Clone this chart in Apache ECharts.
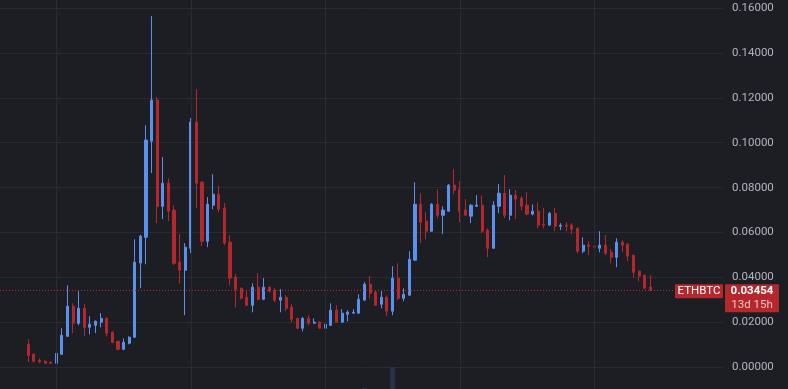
<!DOCTYPE html>
<html><head><meta charset="utf-8">
<script src="https://cdn.jsdelivr.net/npm/echarts@6/dist/echarts.min.js"></script>
<style>html,body{margin:0;padding:0;background:#1d1e23;overflow:hidden}#c{width:788px;height:389px}</style>
</head><body><div id="c"></div>
<script>
const months = ['2015-08','2015-09','2015-10','2015-11','2015-12',
'2016-01','2016-02','2016-03','2016-04','2016-05','2016-06','2016-07','2016-08','2016-09','2016-10','2016-11','2016-12',
'2017-01','2017-02','2017-03','2017-04','2017-05','2017-06','2017-07','2017-08','2017-09','2017-10','2017-11','2017-12',
'2018-01','2018-02','2018-03','2018-04','2018-05','2018-06','2018-07','2018-08','2018-09','2018-10','2018-11','2018-12',
'2019-01','2019-02','2019-03','2019-04','2019-05','2019-06','2019-07','2019-08','2019-09','2019-10','2019-11','2019-12',
'2020-01','2020-02','2020-03','2020-04','2020-05','2020-06','2020-07','2020-08','2020-09','2020-10','2020-11','2020-12',
'2021-01','2021-02','2021-03','2021-04','2021-05','2021-06','2021-07','2021-08','2021-09','2021-10','2021-11','2021-12',
'2022-01','2022-02','2022-03','2022-04','2022-05','2022-06','2022-07','2022-08','2022-09','2022-10','2022-11','2022-12',
'2023-01','2023-02','2023-03','2023-04','2023-05','2023-06','2023-07','2023-08','2023-09','2023-10','2023-11','2023-12',
'2024-01','2024-02','2024-03','2024-04','2024-05','2024-06','2024-07','2024-08','2024-09','2024-10','2024-11'];

const open = [0.0102,0.0058,0.0030,0.0027,0.0022,
0.0018,0.0058,0.0138,0.0272,0.0196,0.0263,0.0178,0.0187,0.0201,0.0218,0.0156,0.0116,
0.0080,0.0107,0.0134,0.0464,0.0579,0.1007,0.1190,0.0717,0.0820,0.0700,0.0468,0.0432,
0.0530,0.1092,0.0824,0.0561,0.0722,0.0771,0.0709,0.0557,0.0401,0.0352,0.0312,0.0276,
0.0357,0.0303,0.0357,0.0343,0.0299,0.0312,0.0267,0.0218,0.0174,0.0218,0.0196,0.0201,
0.0174,0.0187,0.0254,0.0201,0.0236,0.0241,0.0241,0.0299,0.0370,0.0334,0.0281,0.0312,
0.0250,0.0397,0.0307,0.0321,0.0477,0.0726,0.0651,0.0606,0.0726,0.0677,0.0695,0.0811,
0.0793,0.0700,0.0673,0.0717,0.0722,0.0611,0.0530,0.0717,0.0775,0.0677,0.0766,0.0753,
0.0722,0.0682,0.0695,0.0637,0.0633,0.0686,0.0628,0.0633,0.0633,0.0619,0.0517,0.0544,
0.0539,0.0530,0.0544,0.0512,0.0490,0.0557,0.0548,0.0499,0.0428,0.0410,0.0357];

const close = [0.0053,0.0027,0.0024,0.0018,0.0018,
0.0062,0.0143,0.0272,0.0196,0.0263,0.0178,0.0192,0.0205,0.0218,0.0152,0.0111,0.0080,
0.0111,0.0134,0.0468,0.0584,0.1012,0.1190,0.0717,0.0820,0.0695,0.0463,0.0432,0.0535,
0.1092,0.0820,0.0561,0.0726,0.0771,0.0704,0.0553,0.0397,0.0348,0.0307,0.0276,0.0357,
0.0303,0.0357,0.0339,0.0299,0.0312,0.0263,0.0214,0.0174,0.0218,0.0196,0.0201,0.0174,
0.0192,0.0254,0.0201,0.0241,0.0245,0.0245,0.0303,0.0370,0.0330,0.0276,0.0312,0.0250,
0.0397,0.0307,0.0325,0.0481,0.0726,0.0646,0.0606,0.0726,0.0677,0.0700,0.0811,0.0789,
0.0695,0.0677,0.0722,0.0722,0.0606,0.0530,0.0722,0.0775,0.0677,0.0766,0.0749,0.0717,
0.0682,0.0695,0.0633,0.0633,0.0686,0.0628,0.0633,0.0628,0.0615,0.0517,0.0544,0.0539,
0.0535,0.0544,0.0508,0.0490,0.0557,0.0544,0.0495,0.0423,0.0406,0.0352,0.03454];

const low = [0.0024,0.0022,0.0019,0.0017,0.0017,
0.0016,0.0056,0.0135,0.0152,0.0187,0.0138,0.0147,0.0152,0.0178,0.0138,0.0107,0.0076,
0.0076,0.0102,0.0130,0.0352,0.0459,0.0865,0.0642,0.0660,0.0651,0.0455,0.0374,0.0232,
0.0508,0.0709,0.0539,0.0535,0.0704,0.0691,0.0544,0.0365,0.0267,0.0303,0.0272,0.0245,
0.0299,0.0299,0.0334,0.0290,0.0245,0.0250,0.0201,0.0172,0.0160,0.0187,0.0196,0.0172,
0.0169,0.0185,0.0199,0.0199,0.0205,0.0239,0.0239,0.0297,0.0307,0.0274,0.0263,0.0227,
0.0232,0.0299,0.0294,0.0319,0.0475,0.0553,0.0570,0.0604,0.0664,0.0593,0.0693,0.0771,
0.0646,0.0675,0.0642,0.0715,0.0597,0.0490,0.0528,0.0686,0.0664,0.0655,0.0660,0.0700,
0.0677,0.0677,0.0619,0.0619,0.0631,0.0606,0.0611,0.0606,0.0593,0.0508,0.0508,0.0499,
0.0477,0.0512,0.0499,0.0463,0.0446,0.0512,0.0472,0.0401,0.0383,0.0350,0.0339];

const high = [0.0125,0.0062,0.0040,0.0031,0.0026,
0.0071,0.0174,0.0365,0.0285,0.0339,0.0281,0.0227,0.0209,0.0241,0.0223,0.0160,0.0116,
0.0129,0.0138,0.0570,0.0590,0.1078,0.1564,0.1203,0.0936,0.0842,0.0722,0.0593,0.0553,
0.1110,0.1239,0.0829,0.0758,0.0860,0.0807,0.0731,0.0588,0.0414,0.0355,0.0343,0.0374,
0.0419,0.0397,0.0361,0.0352,0.0348,0.0321,0.0281,0.0220,0.0223,0.0232,0.0218,0.0205,
0.0201,0.0285,0.0276,0.0259,0.0254,0.0259,0.0325,0.0379,0.0406,0.0343,0.0339,0.0321,
0.0450,0.0463,0.0352,0.0517,0.0824,0.0775,0.0691,0.0731,0.0793,0.0717,0.0816,0.0882,
0.0829,0.0749,0.0726,0.0766,0.0766,0.0619,0.0740,0.0816,0.0856,0.0793,0.0789,0.0762,
0.0780,0.0726,0.0735,0.0709,0.0691,0.0709,0.0642,0.0646,0.0642,0.0624,0.0579,0.0561,
0.0611,0.0606,0.0588,0.0526,0.0575,0.0566,0.0553,0.0501,0.0432,0.0414,0.0410];

const volumeMonths = ['2020-08','2021-01'];
const volumeValues = [2.3, 50];

const gridMonths = ['2016-01','2018-01','2020-01','2022-01','2024-01'];
const symbol = 'ETHBTC';
const lastPrice = 0.03454;
const lastPriceText = '0.03454';
const countdown = '13d 15h';

const UP = '#5b90ef', DOWN = '#b2282d', GRID = '#2a2b31', BG = '#1d1e23';
const base = months.indexOf('2016-01');
const xOf = m => months.indexOf(m) - base;
const X_MIN = -10.05, X_MAX = 118.97;

const candleData = months.map((m, i) => [i - base, open[i], close[i], low[i], high[i]]);
const volData = volumeMonths.map((m, i) => [xOf(m), volumeValues[i]]);

const chart = echarts.init(document.getElementById('c'), null, {renderer: 'canvas'});
chart.setOption({
  animation: false,
  backgroundColor: BG,
  textStyle: {fontFamily: 'Roboto'},
  grid: [
    {left: 0, right: 65, top: -36.9, bottom: -23.2, outerBoundsMode: 'none', containLabel: false},
    {left: 0, right: 65, top: 345, bottom: 0, outerBoundsMode: 'none', containLabel: false}
  ],
  xAxis: [
    {type: 'value', gridIndex: 0, min: X_MIN, max: X_MAX, show: false, splitLine: {show: false}},
    {type: 'value', gridIndex: 1, min: X_MIN, max: X_MAX, show: false, splitLine: {show: false}}
  ],
  yAxis: [
    {type: 'value', gridIndex: 0, position: 'right', min: -0.02, max: 0.18, interval: 0.02,
     axisLine: {show: false}, axisTick: {show: false},
     axisLabel: {color: '#b2b5be', fontSize: 11.5, fontFamily: 'Roboto', margin: 9,
       formatter: v => v.toFixed(5)},
     splitLine: {lineStyle: {color: GRID, width: 1}}},
    {type: 'value', gridIndex: 1, min: 0, max: 100, show: false, splitLine: {show: false}}
  ],
  series: [
    {type: 'line', xAxisIndex: 0, yAxisIndex: 0, data: [], z: 0, silent: true,
     markLine: {silent: true, symbol: 'none', label: {show: false}, animation: false,
       lineStyle: {color: GRID, type: 'solid', width: 1},
       data: gridMonths.map(m => ({xAxis: xOf(m)}))}},
    {type: 'bar', xAxisIndex: 1, yAxisIndex: 1, data: volData, barWidth: 5,
     itemStyle: {color: '#27324a'}, z: 1, silent: true},
    {type: 'candlestick', xAxisIndex: 0, yAxisIndex: 0, data: candleData,
     encode: {x: 0, y: [1, 2, 3, 4]}, barWidth: 2.6, z: 3,
     itemStyle: {color: UP, color0: DOWN, borderColor: UP, borderColor0: DOWN, borderWidth: 1}}
  ]
});

const py = chart.convertToPixel({yAxisIndex: 0}, lastPrice);
const right = chart.convertToPixel({xAxisIndex: 0}, X_MAX);
const left = chart.convertToPixel({xAxisIndex: 0}, X_MIN);
const lineY = Math.round(py) + 0.5;
chart.setOption({
  graphic: [
    {type: 'line', z: 50, silent: true,
     shape: {x1: left, y1: lineY, x2: right - 48, y2: lineY},
     style: {stroke: '#c0282f', lineWidth: 1, lineDash: [1, 2]}},
    {type: 'rect', z: 100, shape: {x: right - 48, y: py - 5.5, width: 48, height: 14, r: 1}, style: {fill: DOWN}},
    {type: 'text', z: 101, x: right - 24, y: py + 1.5,
     style: {text: symbol, fill: '#ffffff', fontSize: 11.5, fontFamily: 'Roboto', align: 'center', verticalAlign: 'middle'}},
    {type: 'rect', z: 100, shape: {x: right + 2, y: py - 5.5, width: 54, height: 28, r: 1}, style: {fill: DOWN}},
    {type: 'text', z: 101, x: right + 29, y: py + 1.5,
     style: {text: lastPriceText, fill: '#ffffff', fontSize: 11.5, fontWeight: 'bold', fontFamily: 'Roboto', align: 'center', verticalAlign: 'middle'}},
    {type: 'text', z: 101, x: right + 29, y: py + 15.5,
     style: {text: countdown, fill: '#f2c3c5', fontSize: 11.5, fontFamily: 'Roboto', align: 'center', verticalAlign: 'middle'}}
  ]
});
</script></body></html>
